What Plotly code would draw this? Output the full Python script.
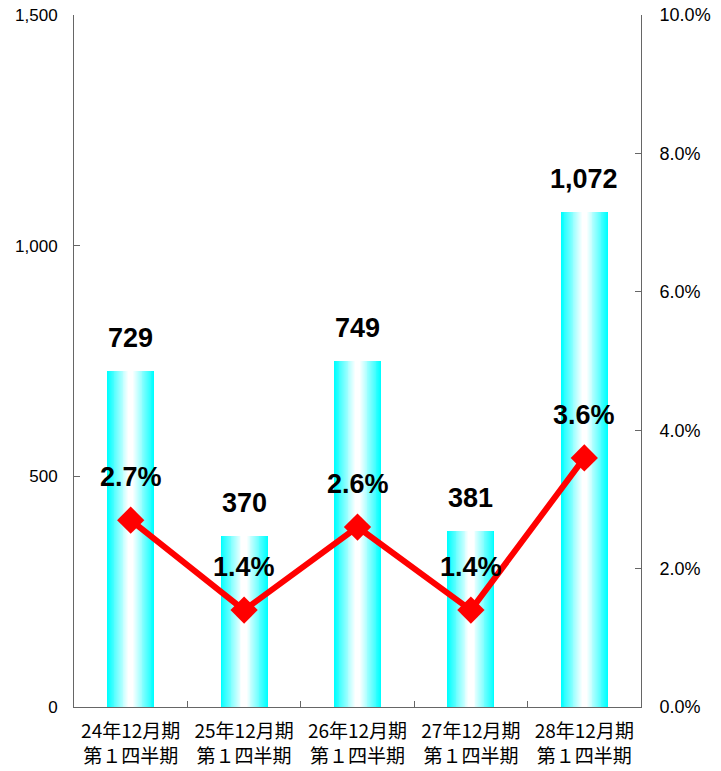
import plotly.graph_objects as go

# Quarterly figures (Q1 of each fiscal year ending in December)
periods = [
    "24年12月期<br>第１四半期",
    "25年12月期<br>第１四半期",
    "26年12月期<br>第１四半期",
    "27年12月期<br>第１四半期",
    "28年12月期<br>第１四半期",
]
sales = [729, 370, 749, 381, 1072]          # left axis
ratio_pct = [2.7, 1.4, 2.6, 1.4, 3.6]       # right axis, %

left_ticks = [0, 500, 1000, 1500]
right_ticks = [0, 2, 4, 6, 8, 10]

BAR_WIDTH = 0.414
LAYERS = 26

fig = go.Figure()

# Cyan-to-white horizontal gradient: stacked overlay bars, each narrower and lighter
for k in range(LAYERS):
    frac = 1 - k / LAYERS                   # relative width (1 = full bar edge)
    t = max(0.0, min(1.0, (frac - 0.12) / 0.88))
    r = int(round(255 * (1 - t)))
    fig.add_trace(go.Bar(
        x=periods, y=sales,
        width=BAR_WIDTH * frac,
        marker=dict(color=f"rgb({r},255,255)", line=dict(width=0)),
        hoverinfo="skip" if k else None,
        showlegend=False,
    ))

fig.add_trace(go.Scatter(
    x=periods, y=ratio_pct, yaxis="y2",
    mode="lines+markers",
    line=dict(color="#FF0000", width=6),
    marker=dict(symbol="diamond", size=21, color="#FF0000"),
    showlegend=False,
))

label_font = dict(family="Liberation Sans, Arial, sans-serif", size=27, color="#000000")
annotations = []
for p, v in zip(periods, sales):
    annotations.append(dict(
        x=p, y=v, xref="x", yref="y", text=f"<b>{v:,}</b>",
        showarrow=False, yanchor="middle", yshift=33, font=label_font,
    ))
for p, v in zip(periods, ratio_pct):
    annotations.append(dict(
        x=p, y=v, xref="x", yref="y2", text=f"<b>{v:.1f}%</b>",
        showarrow=False, yanchor="middle", yshift=43, font=label_font,
    ))

axis_line = "#666666"
tick_font = dict(family="Liberation Sans, Arial, sans-serif", size=17, color="#000000")
tick_font_r = dict(family="Liberation Sans, Arial, sans-serif", size=18, color="#000000")

fig.update_layout(
    width=721, height=771,
    margin=dict(l=74, r=80, t=15, b=64, autoexpand=False),
    paper_bgcolor="white", plot_bgcolor="white",
    barmode="overlay", bargap=0,
    annotations=annotations,
    xaxis=dict(
        showline=True, linecolor=axis_line, linewidth=1,
        ticks="inside", tickson="boundaries", ticklen=6, tickcolor=axis_line,
        tickfont=dict(family="Noto Sans CJK JP, sans-serif", size=19, color="#000000"),
        tickangle=0, ticklabelstandoff=7, automargin=False,
        showgrid=False, zeroline=False,
    ),
    yaxis=dict(
        range=[0, 1500], tickvals=left_ticks,
        ticktext=[f"{v:,}" for v in left_ticks],
        showline=True, linecolor=axis_line, linewidth=1,
        ticks="inside", ticklen=6, tickcolor=axis_line,
        tickfont=tick_font, ticklabelstandoff=12, automargin=False,
        showgrid=False, zeroline=False,
    ),
    yaxis2=dict(
        range=[0, 10], tickvals=right_ticks,
        ticktext=[f"{v:.1f}%" for v in right_ticks],
        overlaying="y", side="right",
        showline=True, linecolor=axis_line, linewidth=1,
        ticks="inside", ticklen=6, tickcolor=axis_line,
        tickfont=tick_font_r, ticklabelstandoff=14, automargin=False,
        showgrid=False, zeroline=False,
    ),
)

fig.write_html("out.html")
